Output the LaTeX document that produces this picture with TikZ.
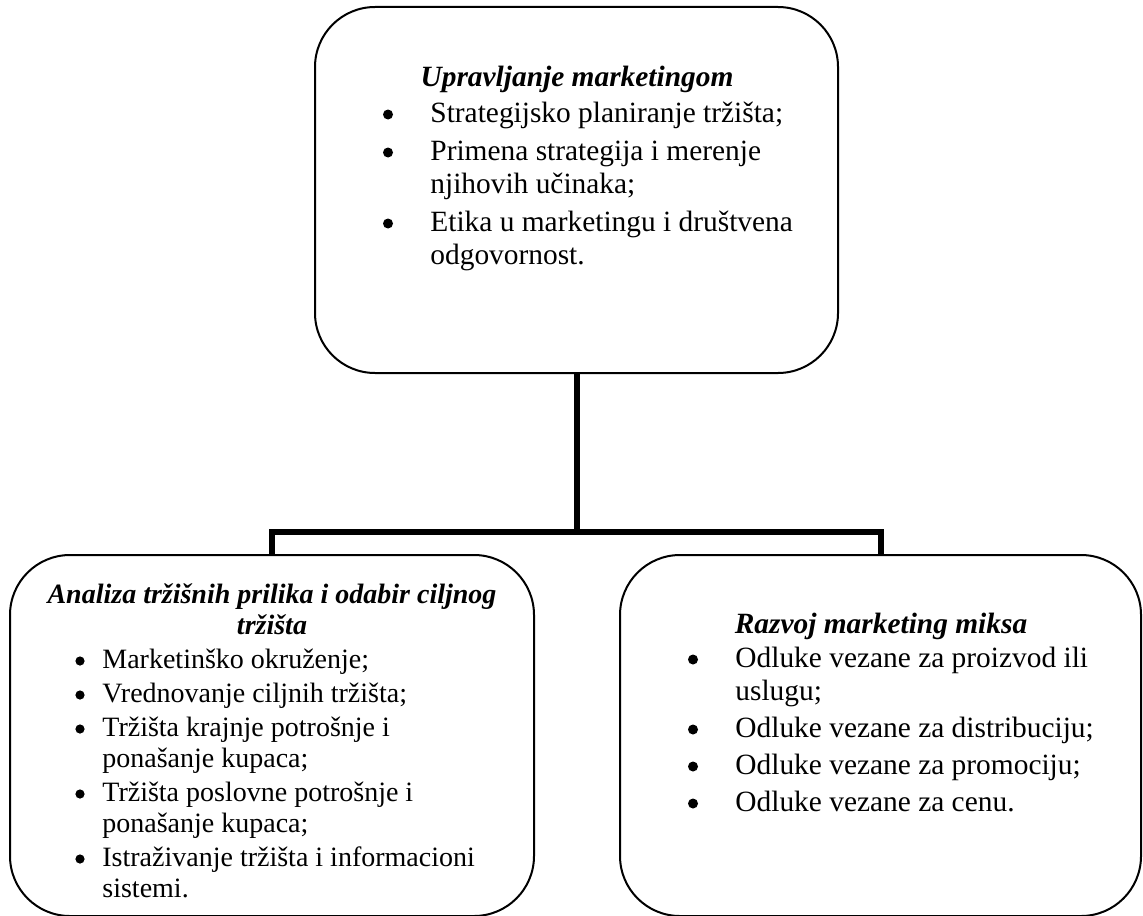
\documentclass[tikz,border=0pt]{standalone}
\usepackage{fontspec}
\setmainfont{Liberation Serif}
\begin{document}
\begin{tikzpicture}[x=0.5pt,y=-0.5pt,
  box/.style={draw, line width=1pt, rectangle, rounded corners=30pt, inner sep=0pt},
  conn/.style={line width=3pt, line join=miter},
  ttl/.style={inner sep=0pt, anchor=base, font=\fontsize{14.7pt}{16.5pt}\selectfont\bfseries\itshape},
  itm/.style={inner sep=0pt, anchor=base west, font=\fontsize{14.7pt}{16.5pt}\selectfont},
  ttls/.style={ttl, font=\fontsize{14pt}{15.75pt}\selectfont\bfseries\itshape},
  itms/.style={itm, font=\fontsize{14pt}{15.75pt}\selectfont},
  bul/.style={circle, fill, draw=none, inner sep=0pt, minimum size=5pt},
  buls/.style={bul, minimum size=4.6pt}]
\useasboundingbox (0,0) rectangle (1143,915);

% the three boxes
\node[box, minimum width=261.5pt, minimum height=183pt] (top) at (576.5,190) {};
\node[box, minimum width=262pt, minimum height=180.5pt] (lbox) at (272,735.5) {};
\node[box, minimum width=260.5pt, minimum height=180.5pt] (rbox) at (880.5,735.5) {};

% tree connector
\coordinate (hub) at (576.5,532);
\draw[conn] (top.south) -- (hub);
\draw[conn] (lbox.north) |- (hub) -| (rbox.north);

% upper box text
\node[ttl] (t0) at (577,87) {Upravljanje marketingom};
\node[bul] (tb1) at (388,114.5) {};
\node[itm] (t1) at (430,122) {Strategijsko planiranje tržišta;};
\node[bul] (tb2) at (388,152.5) {};
\node[itm] (t2) at (430,160) {Primena strategija i merenje};
\node[itm] (t2b) at (430,193) {njihovih učinaka;};
\node[bul] (tb3) at (388,223.5) {};
\node[itm] (t3) at (430,231) {Etika u marketingu i društvena};
\node[itm] (t3b) at (430,264) {odgovornost.};

% left box text
\node[ttls] (l0) at (272,603) {Analiza tržišnih prilika i odabir ciljnog};
\node[ttls] (l0b) at (272,634) {tržišta};
\node[buls] (lb1) at (80,661) {};
\node[itms] (l1) at (102,668) {Marketinško okruženje;};
\node[buls] (lb2) at (80,695) {};
\node[itms] (l2) at (102,702) {Vrednovanje ciljnih tržišta;};
\node[buls] (lb3) at (80,729) {};
\node[itms] (l3) at (102,736) {Tržišta krajnje potrošnje i};
\node[itms] (l3b) at (102,767) {ponašanje kupaca;};
\node[buls] (lb4) at (80,794) {};
\node[itms] (l4) at (102,801) {Tržišta poslovne potrošnje i};
\node[itms] (l4b) at (102,832) {ponašanje kupaca;};
\node[buls] (lb5) at (80,859) {};
\node[itms] (l5) at (102,866) {Istraživanje tržišta i informacioni};
\node[itms] (l5b) at (102,897) {sistemi.};

% right box text
\node[ttl] (r0) at (881,633) {Razvoj marketing miksa};
\node[bul] (rb1) at (693,659.5) {};
\node[itm] (r1) at (735,667) {Odluke vezane za proizvod ili};
\node[itm] (r1b) at (735,700) {uslugu;};
\node[bul] (rb2) at (693,729.5) {};
\node[itm] (r2) at (735,737) {Odluke vezane za distribuciju;};
\node[bul] (rb3) at (693,766.5) {};
\node[itm] (r3) at (735,774) {Odluke vezane za promociju;};
\node[bul] (rb4) at (693,803.5) {};
\node[itm] (r4) at (735,811) {Odluke vezane za cenu.};
\end{tikzpicture}
\end{document}
